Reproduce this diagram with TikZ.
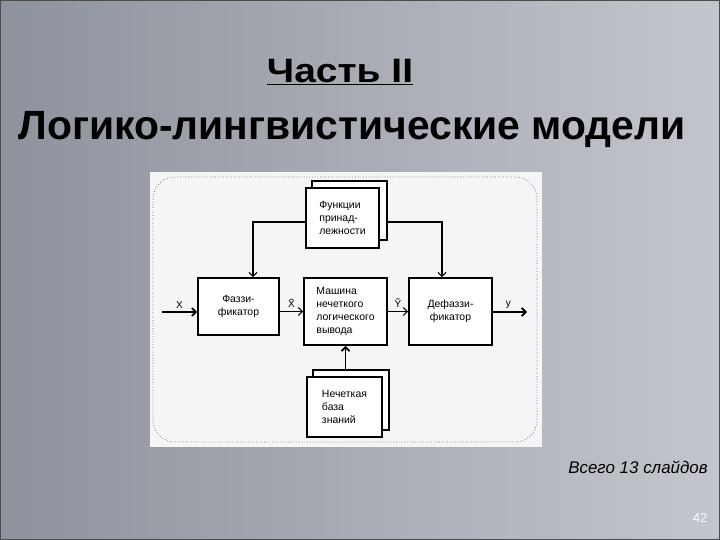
\documentclass[tikz,border=0pt]{standalone}
\usepackage{fontspec}
\setmainfont{Liberation Sans}
\usepackage{xcolor}
\usepackage{tikz}
\usetikzlibrary{positioning, arrows.meta, calc}
\definecolor{bgdark}{HTML}{8E929C}
\definecolor{bgmid}{HTML}{C4C6CD}
\definecolor{bglight}{HTML}{DCDDE2}
\definecolor{paper}{HTML}{F5F5F5}
\definecolor{dotgray}{HTML}{6A6A6A}

\tikzset{
  block/.style={draw, line width=1.8bp, fill=white, font=\fontsize{10.5}{13}\selectfont,
                inner sep=2bp},
  wire/.style={line width=1.1bp, -{Straight Barb[length=4bp,width=8bp]}},
  mainwire/.style={line width=1.8bp, -{Straight Barb[length=4bp,width=8bp]}},
  lbl/.style={above, font=\fontsize{10}{11}\selectfont, inner sep=3bp}
}

\begin{document}
\begin{tikzpicture}[x=1bp, y=-1bp]
    \useasboundingbox (0,0) rectangle (720,540);
    % slide background
    \shade[left color=bgdark, middle color=bglight, right color=bgmid] (0,0) rectangle (720,540);
    \draw[line width=1.5bp, black!70] (0,0) rectangle (720,540);

    % title
    \node[font=\bfseries\fontsize{34}{38}\selectfont] (part) at (340,72) {\scalebox{1.15}[1]{\underline{Часть II}}};
    \node[font=\bfseries\fontsize{41}{46}\selectfont] (title) at (352,130) {Логико-лингвистические модели};

    % diagram sheet
    \fill[paper] (150,172) rectangle (542,447);
    \draw[dotgray, dotted, line width=0.7bp, rounded corners=22bp] (153,177) rectangle (537,442);

    % stacked blocks
    \node[block, minimum width=75bp, minimum height=59bp] (membfnback) at (349.5,210.5) {};
    \node[block, minimum width=73bp, minimum height=60bp, align=left] (membfn) at (342.5,218)
      {Функции\\принад-\\лежности};
    \node[block, minimum width=76bp, minimum height=60bp] (rulebaseback) at (351,400) {};
    \node[block, minimum width=75bp, minimum height=60bp, align=left] (rulebase) at (344.5,407)
      {Нечеткая\\база\\знаний};

    % main chain
    \node[block, minimum width=81bp, minimum height=57bp, align=center] (fuzz) at (238.5,306.5)
      {Фаззи-\\фикатор};
    \node[block, minimum width=83bp, minimum height=67bp, align=left] (engine) at (345.5,311.5)
      {Машина\\нечеткого\\логического\\вывода};
    \node[block, minimum width=83bp, minimum height=67bp, align=center] (defuzz) at (450.5,311.5)
      {Дефаззи-\\фикатор};

    \coordinate (xin) at (162,312);
    \coordinate (yout) at (527,312);

    % connectors
    \draw[mainwire] (xin) -- node[lbl] (xlbl) {X} (xin -| fuzz.west);
    \draw[wire] (fuzz.east |- engine) -- node[lbl] (xtlbl) {\~X} (engine);
    \draw[wire] (engine) -- node[lbl] (ytlbl) {\~Y} (defuzz);
    \draw[mainwire] (defuzz.east |- yout) -- node[lbl, pos=0.45] (ylbl) {y} (yout);
    \draw[wire] ([yshift=-4bp]membfn.west) -| ([xshift=14.5bp]fuzz.north);
    \draw[wire] ([yshift=-11.5bp]membfnback.east) -| ([xshift=-8.5bp]defuzz.north);
    \draw[mainwire] (rulebaseback.north -| engine.south) -- (engine.south);

    % footer
    \node[font=\itshape\fontsize{17}{20}\selectfont] (total) at (638,467) {Всего 13 слайдов};
    \node[font=\fontsize{13}{15}\selectfont, text=white!90!bgmid] (pageno) at (700,518) {42};
\end{tikzpicture}
\end{document}
